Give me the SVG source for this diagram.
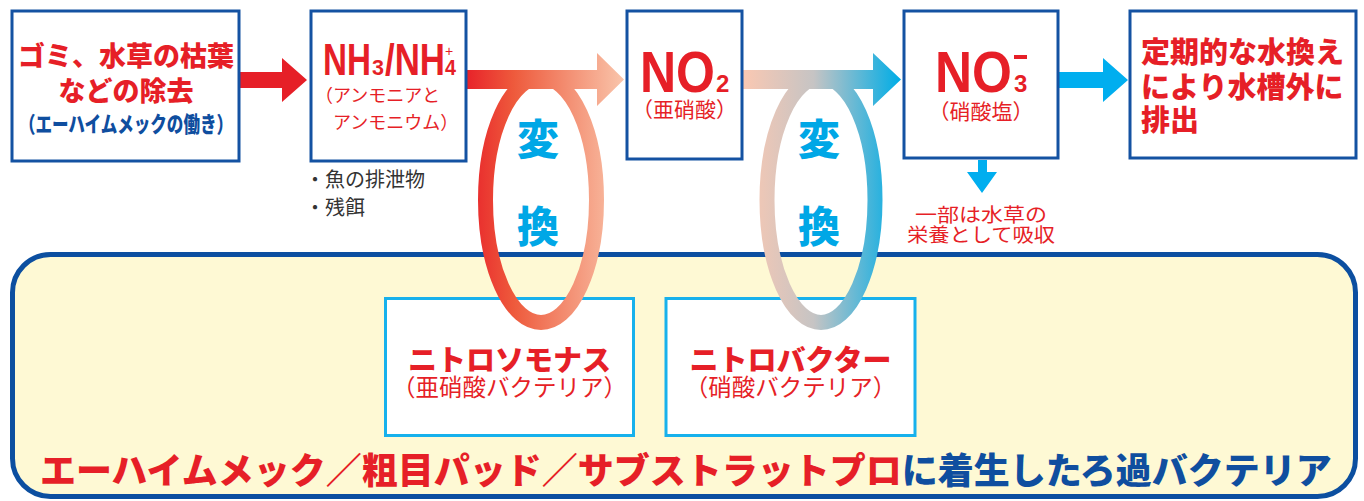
<svg xmlns="http://www.w3.org/2000/svg" width="1364" height="501" viewBox="0 0 1364 501">
  <defs>
    <linearGradient id="g1" gradientUnits="userSpaceOnUse" x1="467" y1="0" x2="623" y2="0">
      <stop offset="0" stop-color="#e8232a"/>
      <stop offset="0.3" stop-color="#ee5a3c"/>
      <stop offset="1" stop-color="#f9c4aa"/>
    </linearGradient>
    <linearGradient id="g2" gradientUnits="userSpaceOnUse" x1="743" y1="0" x2="900" y2="0">
      <stop offset="0" stop-color="#fac8b2"/>
      <stop offset="0.45" stop-color="#c6c4c4"/>
      <stop offset="1" stop-color="#00ade6"/>
    </linearGradient>
    <style>
      .box { fill: #ffffff; stroke: #1452a2; stroke-width: 3; }
      .bbox { fill: #ffffff; stroke: #17b1ec; stroke-width: 3; }
      .jp { font-family: "Noto Sans CJK JP", "Noto Sans", sans-serif; }
      .lat { font-family: "Liberation Sans", Arial, sans-serif; font-weight: bold; }
      .red { fill: #e61f27; }
      .blue { fill: #0f4e9f; }
      .cyan { fill: #00a7e6; }
      .b { font-weight: 900; }
      .mid { text-anchor: middle; }
    </style>
  </defs>

  <g id="panel">
    <rect x="12.5" y="254.5" width="1343" height="242" rx="38" ry="38" fill="#fef9d4" stroke="#0c4fa0" stroke-width="5"/>
  </g>

  <g id="nitrosomonas">
    <rect class="bbox" x="385.5" y="298.5" width="248" height="137"/>
    <text class="jp b red mid" x="509.5" y="371" font-size="29">ニトロソモナス</text>
    <text class="jp red mid" x="509.5" y="396" font-size="23.5">（亜硝酸バクテリア）</text>
  </g>

  <g id="nitrobacter">
    <rect class="bbox" x="666" y="298.5" width="249" height="137"/>
    <text class="jp b red mid" x="790.5" y="371" font-size="29">ニトロバクター</text>
    <text class="jp red mid" x="790.5" y="396" font-size="23.5">（硝酸バクテリア）</text>
  </g>

  <g id="connectors">
    <polygon fill="#e61f27" points="240,72 282,72 282,58 307,80 282,102 282,88 240,88"/>
    <ellipse cx="541" cy="200" rx="55.5" ry="122.5" fill="none" stroke="url(#g1)" stroke-width="15"/>
    <polygon fill="url(#g1)" points="467,70 597,70 597,53 624,79.5 597,106 597,89 467,89"/>
    <ellipse cx="821" cy="200" rx="54" ry="122.5" fill="none" stroke="url(#g2)" stroke-width="15"/>
    <polygon fill="url(#g2)" points="743,70 873,70 873,53 901,79.5 873,106 873,89 743,89"/>
    <polygon fill="#00aeef" points="1059,72 1103,72 1103,58 1128,80 1103,102 1103,88 1059,88"/>
    <polygon fill="#00aeef" points="978,160 987,160 987,172 997,172 982,193 967,172 978,172"/>
    <text class="jp b cyan mid" x="538" y="155" font-size="42">変</text>
    <text class="jp b cyan mid" x="538" y="242" font-size="42">換</text>
    <text class="jp b cyan mid" x="819" y="155" font-size="42">変</text>
    <text class="jp b cyan mid" x="819" y="242" font-size="42">換</text>
  </g>

  <g id="removal">
    <rect class="box" x="12" y="11" width="227" height="150"/>
    <text class="jp b red mid" x="126" y="66" font-size="27">ゴミ、水草の枯葉</text>
    <text class="jp b red mid" x="126" y="101" font-size="27">などの除去</text>
    <text class="jp b blue mid" x="126" y="132" font-size="22" textLength="214" lengthAdjust="spacingAndGlyphs">（エーハイムメックの働き）</text>
  </g>

  <g id="ammonia">
    <rect class="box" x="311" y="11" width="155" height="150"/>
    <text class="lat red" x="323" y="75" font-size="44"><tspan textLength="48" lengthAdjust="spacingAndGlyphs">NH</tspan><tspan x="372" font-size="22" textLength="12" lengthAdjust="spacingAndGlyphs">3</tspan><tspan x="385" textLength="60" lengthAdjust="spacingAndGlyphs">/NH</tspan><tspan x="445" font-size="22" textLength="11" lengthAdjust="spacingAndGlyphs">4</tspan></text>
    <text class="lat red" x="445" y="56" font-size="14" style="font-weight:normal">+</text>
    <text class="jp red" x="315" y="102" font-size="18">（アンモニアと</text>
    <text class="jp red" x="333" y="129" font-size="18">アンモニウム）</text>
  </g>

  <g id="sources">
    <text class="jp" x="305" y="187" font-size="20" fill="#333333">・魚の排泄物</text>
    <text class="jp" x="305" y="215" font-size="20" fill="#333333">・残餌</text>
  </g>

  <g id="nitrite">
    <rect class="box" x="627" y="11" width="115" height="148"/>
    <text class="lat red" x="640" y="92" font-size="58"><tspan textLength="75" lengthAdjust="spacingAndGlyphs">NO</tspan><tspan x="716" font-size="24">2</tspan></text>
    <text class="jp red mid" x="684.5" y="117" font-size="21">（亜硝酸）</text>
  </g>

  <g id="nitrate">
    <rect class="box" x="904" y="11" width="154" height="147"/>
    <text class="lat red" x="935" y="92" font-size="58"><tspan textLength="77" lengthAdjust="spacingAndGlyphs">NO</tspan><tspan x="1014" font-size="24">3</tspan></text>
    <rect x="1014" y="55" width="13" height="4" fill="#e61f27"/>
    <text class="jp red mid" x="981" y="119" font-size="21">（硝酸塩）</text>
  </g>

  <g id="plants">
    <text class="jp red mid" x="981" y="222" font-size="19" textLength="132" lengthAdjust="spacingAndGlyphs">一部は水草の</text>
    <text class="jp red mid" x="981" y="242" font-size="19" textLength="148" lengthAdjust="spacingAndGlyphs">栄養として吸収</text>
  </g>

  <g id="waterchange">
    <rect class="box" x="1130" y="11" width="226" height="147"/>
    <text class="jp b red" x="1141" y="63" font-size="29">定期的な水換え</text>
    <text class="jp b red" x="1141" y="98" font-size="29">により水槽外に</text>
    <text class="jp b red" x="1141" y="131" font-size="29">排出</text>
  </g>

  <g id="caption">
    <text class="jp b" x="40" y="484" font-size="36"><tspan class="red">エーハイムメック／粗目パッド／サブストラットプロ</tspan><tspan class="blue">に着生したろ過バクテリア</tspan></text>
  </g>
</svg>
